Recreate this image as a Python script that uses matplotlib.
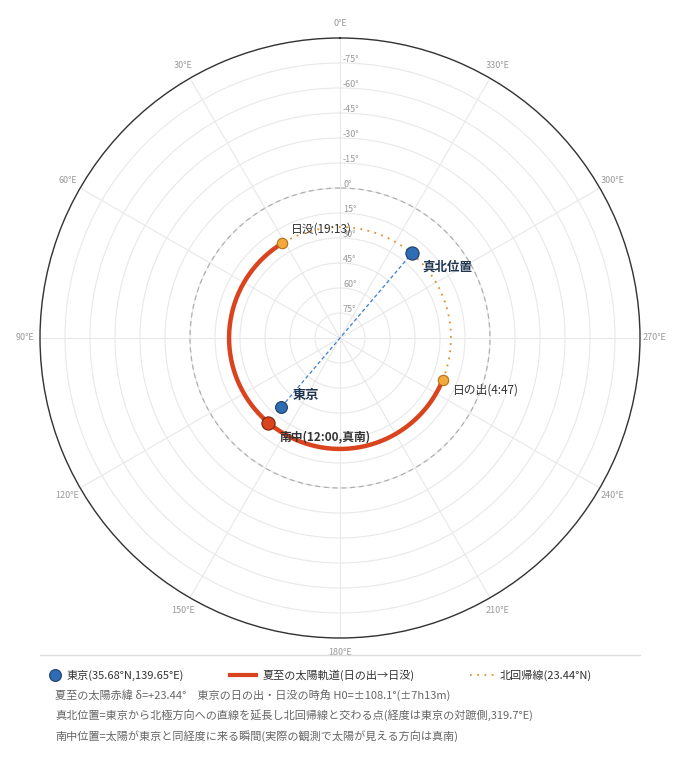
import matplotlib.pyplot as plt
import numpy as np
from matplotlib.lines import Line2D

plt.rcParams['font.family'] = ['Noto Sans CJK JP', 'DejaVu Sans']

# データ
tokyo_lat, tokyo_lon = 35.68, 139.65
tropic_lat = 23.44
sunrise_lon = 247.75   # 東京経度 + 108.1
sunset_lon = 31.55     # 東京経度 - 108.1
noon_lon = 139.65
north_lon = 319.65
lon_ticks = list(range(0, 360, 30))
lon_labels = [f'{v}°E' for v in lon_ticks]
lat_ticks = [75, 60, 45, 30, 15, 0, -15, -30, -45, -60, -75]


def rad(lat):
    # 北極を中心とした極座標の半径
    return 90 - lat


fig = plt.figure(figsize=(6.8, 7.7), dpi=100)
ax = fig.add_axes([40 / 680, 132 / 770, 600 / 680, 600 / 770], projection='polar')
ax.set_theta_zero_location('N')
ax.set_theta_direction(1)
ax.set_ylim(0, 180)

ax.set_thetagrids(lon_ticks, lon_labels)
ax.set_rgrids([rad(v) for v in lat_ticks] + [180], [''] * (len(lat_ticks) + 1))
ax.grid(color='#e8e8e8', linewidth=0.8)
ax.tick_params(axis='x', colors='#999999', labelsize=6.5, pad=0)
ax.spines['polar'].set_color('#333333')
ax.spines['polar'].set_linewidth(1.0)

for v in lat_ticks:
    ax.annotate(f'{v}°', (0, rad(v)), xytext=(3, 3), textcoords='offset pixels',
                ha='left', va='center', fontsize=6.5, color='#999999')

# 赤道(0°)
th = np.radians(np.linspace(0, 360, 361))
ax.plot(th, np.full_like(th, rad(0)), color='#b0b0b0', lw=0.9, ls=(0, (4, 3)))

# 北回帰線(夜側)
th_n = np.radians(np.linspace(sunrise_lon, sunset_lon + 360, 200))
ax.plot(th_n, np.full_like(th_n, rad(tropic_lat)), color='#e0902c', lw=1.3,
        ls=(0, (1, 3)))

# 夏至の太陽軌道
th_d = np.radians(np.linspace(sunset_lon, sunrise_lon, 300))
ax.plot(th_d, np.full_like(th_d, rad(tropic_lat)), color='#d9441e', lw=3.2,
        solid_capstyle='butt')

# 東京→北極→真北位置
ax.plot(np.radians([tokyo_lon, tokyo_lon, north_lon, north_lon]),
        [rad(tokyo_lat), 0, 0, rad(tropic_lat)], color='#3f7fc9', lw=0.9,
        ls=(0, (3, 2)))

ax.plot(np.radians([sunset_lon, sunrise_lon]), [rad(tropic_lat)] * 2, 'o',
        ms=7.5, mfc='#f3a93b', mec='#b36e18', mew=0.8)
ax.plot(np.radians(tokyo_lon), rad(tokyo_lat), 'o', ms=8.5, mfc='#2e6db4',
        mec='#1f3d66', mew=0.8)
ax.plot(np.radians(north_lon), rad(tropic_lat), 'o', ms=9.5, mfc='#2e6db4',
        mec='#1f3d66', mew=0.8)
ax.plot(np.radians(noon_lon), rad(tropic_lat), 'o', ms=9.5, mfc='#d9441e',
        mec='#7a2410', mew=0.8)

def label(lon, lat, text, dx, dy, **kw):
    ax.annotate(text, (np.radians(lon), rad(lat)), xytext=(dx, dy),
                textcoords='offset pixels', ha='left', va='center', **kw)

label(sunset_lon, tropic_lat, '日没(19:13)', 9, 14, fontsize=8.5, color='#333333')
label(sunrise_lon, tropic_lat, '日の出(4:47)', 10, -10, fontsize=8.5, color='#333333')
label(north_lon, tropic_lat, '真北位置', 11, -14, fontsize=9, color='#1f3550',
      fontweight='bold')
label(tokyo_lon, tokyo_lat, '東京', 11, 12, fontsize=9.5, color='#1f3550',
      fontweight='bold')
label(noon_lon, tropic_lat, '南中(12:00,真南)', 11, -14, fontsize=8.5, color='#333333',
      fontweight='bold')

# 凡例と注記
fig.add_artist(Line2D([40 / 680, 640 / 680], [1 - 655 / 770] * 2, color='#dddddd', lw=1))
fig.add_artist(Line2D([55 / 680], [1 - 675 / 770], marker='o', ms=8.5,
                      mfc='#2e6db4', mec='#1f3d66', mew=0.8))
fig.text(67 / 680, 1 - 675 / 770, '東京(35.68°N,139.65°E)', fontsize=8,
         color='#333333', va='center')
fig.add_artist(Line2D([230 / 680, 256 / 680], [1 - 675 / 770] * 2, color='#d9441e', lw=3))
fig.text(263 / 680, 1 - 675 / 770, '夏至の太陽軌道(日の出→日没)', fontsize=8,
         color='#333333', va='center')
fig.add_artist(Line2D([470 / 680, 495 / 680], [1 - 675 / 770] * 2, color='#e0902c', lw=1.3,
                      ls=(0, (1, 3))))
fig.text(500 / 680, 1 - 675 / 770, '北回帰線(23.44°N)', fontsize=8,
         color='#333333', va='center')

notes = [
    '夏至の太陽赤緯 δ=+23.44°　東京の日の出・日没の時角 H0=±108.1°(±7h13m)',
    '真北位置=東京から北極方向への直線を延長し北回帰線と交わる点(経度は東京の対蹠側,319.7°E)',
    '南中位置=太陽が東京と同経度に来る瞬間(実際の観測で太陽が見える方向は真南)',
]
for i, t in enumerate(notes):
    fig.text(55 / 680, 1 - (695 + 20.5 * i) / 770, t, fontsize=8, color='#666666',
             va='center')

fig.savefig('out.png', dpi=100)
